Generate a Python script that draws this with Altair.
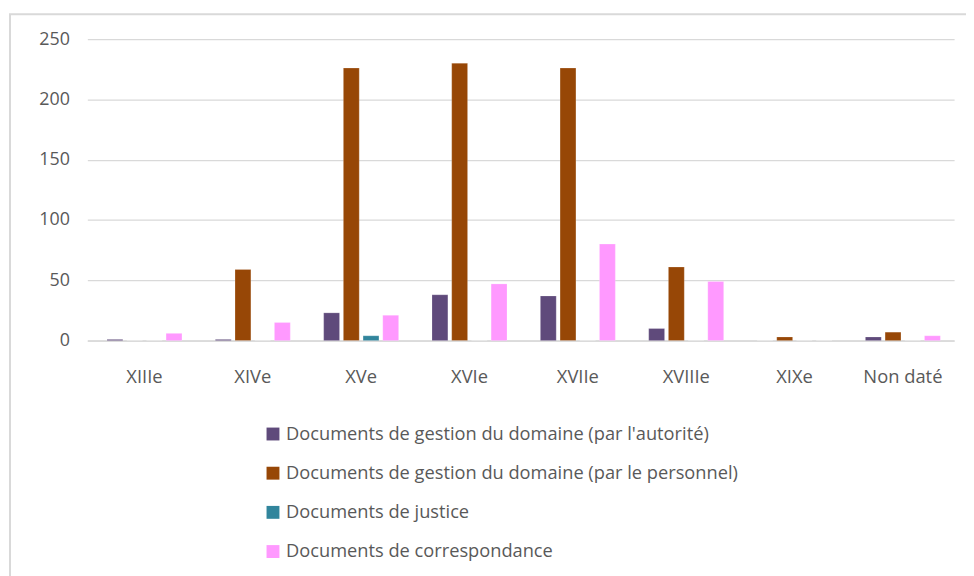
import altair as alt
import pandas as pd

siecles = ["XIIIe", "XIVe", "XVe", "XVIe", "XVIIe", "XVIIIe", "XIXe", "Non daté"]
series = [
    "Documents de gestion du domaine (par l'autorité)",
    "Documents de gestion du domaine (par le personnel)",
    "Documents de justice",
    "Documents de correspondance",
]
autorite = [1, 1, 23, 38, 37, 10, 0, 3]
personnel = [0, 59, 226, 230, 226, 61, 3, 7]
justice = [0, 0, 4, 0, 0, 0, 0, 0]
correspondance = [6, 15, 21, 47, 80, 49, 0, 4]
colors = ["#5F4A7B", "#974706", "#31859C", "#FF99FF"]

rows = []
for s, vals in zip(series, [autorite, personnel, justice, correspondance]):
    for c, v in zip(siecles, vals):
        rows.append({"siecle": c, "serie": s, "valeur": v})
df = pd.DataFrame(rows)

FONT = "Open Sans"
GREY = "#595959"

bars = alt.Chart(df).mark_bar(width=16, stroke="white", strokeOpacity=0.4, strokeWidth=0.5).encode(
    x=alt.X("siecle:N", sort=siecles, title=None,
            scale=alt.Scale(paddingInner=0, paddingOuter=0),
            axis=alt.Axis(labelAngle=0, ticks=False, domain=True, domainColor="#d9d9d9",
                          domainWidth=1.5, labelPadding=27, labelFontSize=18.5,
                          labelOffset=3, labelColor=GREY, labelFont=FONT)),
    xOffset=alt.XOffset("serie:N", sort=series,
                        scale=alt.Scale(paddingInner=0, paddingOuter=0.75, align=0.6)),
    y=alt.Y("valeur:Q", title=None,
            scale=alt.Scale(domain=[0, 250], nice=False),
            axis=alt.Axis(values=[0, 50, 100, 150, 200, 250], ticks=False, domain=False,
                          gridColor="#d9d9d9", gridWidth=1.2, labelPadding=18,
                          labelFontSize=18, labelColor=GREY, labelFont=FONT)),
    color=alt.Color("serie:N", sort=series, title=None,
                    scale=alt.Scale(domain=series, range=colors),
                    legend=alt.Legend(orient="none", legendX=178, legendY=389,
                                      direction="vertical", symbolType="square",
                                      symbolSize=169, symbolStrokeWidth=0,
                                      labelFontSize=18.4, labelColor=GREY, labelFont=FONT,
                                      labelOffset=4, rowPadding=20.5, labelLimit=600)),
)

frame = alt.Chart(alt.Data(values=[{"a": 1}])).mark_rect(
    fill=None, stroke="#d9d9d9", strokeWidth=2
).encode(x=alt.value(-78), x2=alt.value(900), y=alt.value(-25), y2=alt.value(600))

chart = alt.layer(frame, bars).properties(
    width=874, height=304,
    autosize=alt.AutoSizeParams(type="none"),
    padding={"left": 80, "top": 29, "right": 12, "bottom": 235},
).configure_view(stroke=None)

chart.save("out.html", embed_options={"renderer": "svg", "actions": False})
